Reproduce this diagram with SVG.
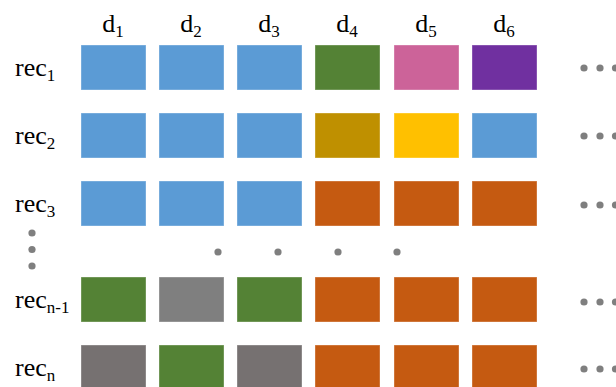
<svg xmlns="http://www.w3.org/2000/svg" width="616" height="387" viewBox="0 0 616 387">
<style>
.b{stroke:#ffffff;stroke-opacity:0.35;stroke-width:1}
.lbl{font-family:"Liberation Serif","Times New Roman",serif;font-size:26px;fill:#000}
.sub{font-size:17px}
.dot{fill:#7f7f7f}
.blue{fill:#5b9bd5}.green{fill:#548235}.pink{fill:#cc6399}.purple{fill:#7030a0}
.gold{fill:#bf9000}.yellow{fill:#ffc000}.orange{fill:#c55a11}.gray{fill:#7f7f7f}.dgray{fill:#767171}
</style>
<g id="col-labels">
<text class="lbl" x="113" y="32" text-anchor="middle">d<tspan class="sub" dy="5">1</tspan></text>
<text class="lbl" x="191" y="32" text-anchor="middle">d<tspan class="sub" dy="5">2</tspan></text>
<text class="lbl" x="269" y="32" text-anchor="middle">d<tspan class="sub" dy="5">3</tspan></text>
<text class="lbl" x="347" y="32" text-anchor="middle">d<tspan class="sub" dy="5">4</tspan></text>
<text class="lbl" x="426" y="32" text-anchor="middle">d<tspan class="sub" dy="5">5</tspan></text>
<text class="lbl" x="504" y="32" text-anchor="middle">d<tspan class="sub" dy="5">6</tspan></text>
</g>
<g id="row1">
<text class="lbl" x="15" y="76">rec<tspan class="sub" dy="5">1</tspan></text>
<rect class="b blue" x="81" y="45" width="65" height="45"/>
<rect class="b blue" x="159" y="45" width="65" height="45"/>
<rect class="b blue" x="237" y="45" width="65" height="45"/>
<rect class="b green" x="315" y="45" width="65" height="45"/>
<rect class="b pink" x="394" y="45" width="65" height="45"/>
<rect class="b purple" x="472" y="45" width="65" height="45"/>
<circle class="dot" cx="584" cy="68" r="3.6"/><circle class="dot" cx="600" cy="68" r="3.6"/><circle class="dot" cx="615.5" cy="68" r="3.6"/>
</g>
<g id="row2">
<text class="lbl" x="15" y="144">rec<tspan class="sub" dy="5">2</tspan></text>
<rect class="b blue" x="81" y="113" width="65" height="45"/>
<rect class="b blue" x="159" y="113" width="65" height="45"/>
<rect class="b blue" x="237" y="113" width="65" height="45"/>
<rect class="b gold" x="315" y="113" width="65" height="45"/>
<rect class="b yellow" x="394" y="113" width="65" height="45"/>
<rect class="b blue" x="472" y="113" width="65" height="45"/>
<circle class="dot" cx="584" cy="136" r="3.6"/><circle class="dot" cx="600" cy="136" r="3.6"/><circle class="dot" cx="615.5" cy="136" r="3.6"/>
</g>
<g id="row3">
<text class="lbl" x="15" y="212">rec<tspan class="sub" dy="5">3</tspan></text>
<rect class="b blue" x="81" y="181" width="65" height="45"/>
<rect class="b blue" x="159" y="181" width="65" height="45"/>
<rect class="b blue" x="237" y="181" width="65" height="45"/>
<rect class="b orange" x="315" y="181" width="65" height="45"/>
<rect class="b orange" x="394" y="181" width="65" height="45"/>
<rect class="b orange" x="472" y="181" width="65" height="45"/>
<circle class="dot" cx="584" cy="205" r="3.6"/><circle class="dot" cx="600" cy="205" r="3.6"/><circle class="dot" cx="615.5" cy="205" r="3.6"/>
</g>
<g id="ellipsis">
<circle class="dot" cx="32" cy="233" r="3.6"/><circle class="dot" cx="32" cy="249.5" r="3.6"/><circle class="dot" cx="32" cy="266" r="3.6"/>
<circle class="dot" cx="218" cy="252" r="3.6"/><circle class="dot" cx="278" cy="252" r="3.6"/><circle class="dot" cx="338" cy="252" r="3.6"/><circle class="dot" cx="397" cy="252" r="3.6"/>
</g>
<g id="row-n-1">
<text class="lbl" x="15" y="308">rec<tspan class="sub" dy="5">n-1</tspan></text>
<rect class="b green" x="81" y="277" width="65" height="45"/>
<rect class="b gray" x="159" y="277" width="65" height="45"/>
<rect class="b green" x="237" y="277" width="65" height="45"/>
<rect class="b orange" x="315" y="277" width="65" height="45"/>
<rect class="b orange" x="394" y="277" width="65" height="45"/>
<rect class="b orange" x="472" y="277" width="65" height="45"/>
<circle class="dot" cx="584" cy="302" r="3.6"/><circle class="dot" cx="600" cy="302" r="3.6"/><circle class="dot" cx="615.5" cy="302" r="3.6"/>
</g>
<g id="row-n">
<text class="lbl" x="15" y="376">rec<tspan class="sub" dy="5">n</tspan></text>
<rect class="b dgray" x="81" y="345" width="65" height="45"/>
<rect class="b green" x="159" y="345" width="65" height="45"/>
<rect class="b dgray" x="237" y="345" width="65" height="45"/>
<rect class="b orange" x="315" y="345" width="65" height="45"/>
<rect class="b orange" x="394" y="345" width="65" height="45"/>
<rect class="b orange" x="472" y="345" width="65" height="45"/>
<circle class="dot" cx="584" cy="369" r="3.6"/><circle class="dot" cx="600" cy="369" r="3.6"/><circle class="dot" cx="615.5" cy="369" r="3.6"/>
</g>
<g id="connectors"/>
</svg>
